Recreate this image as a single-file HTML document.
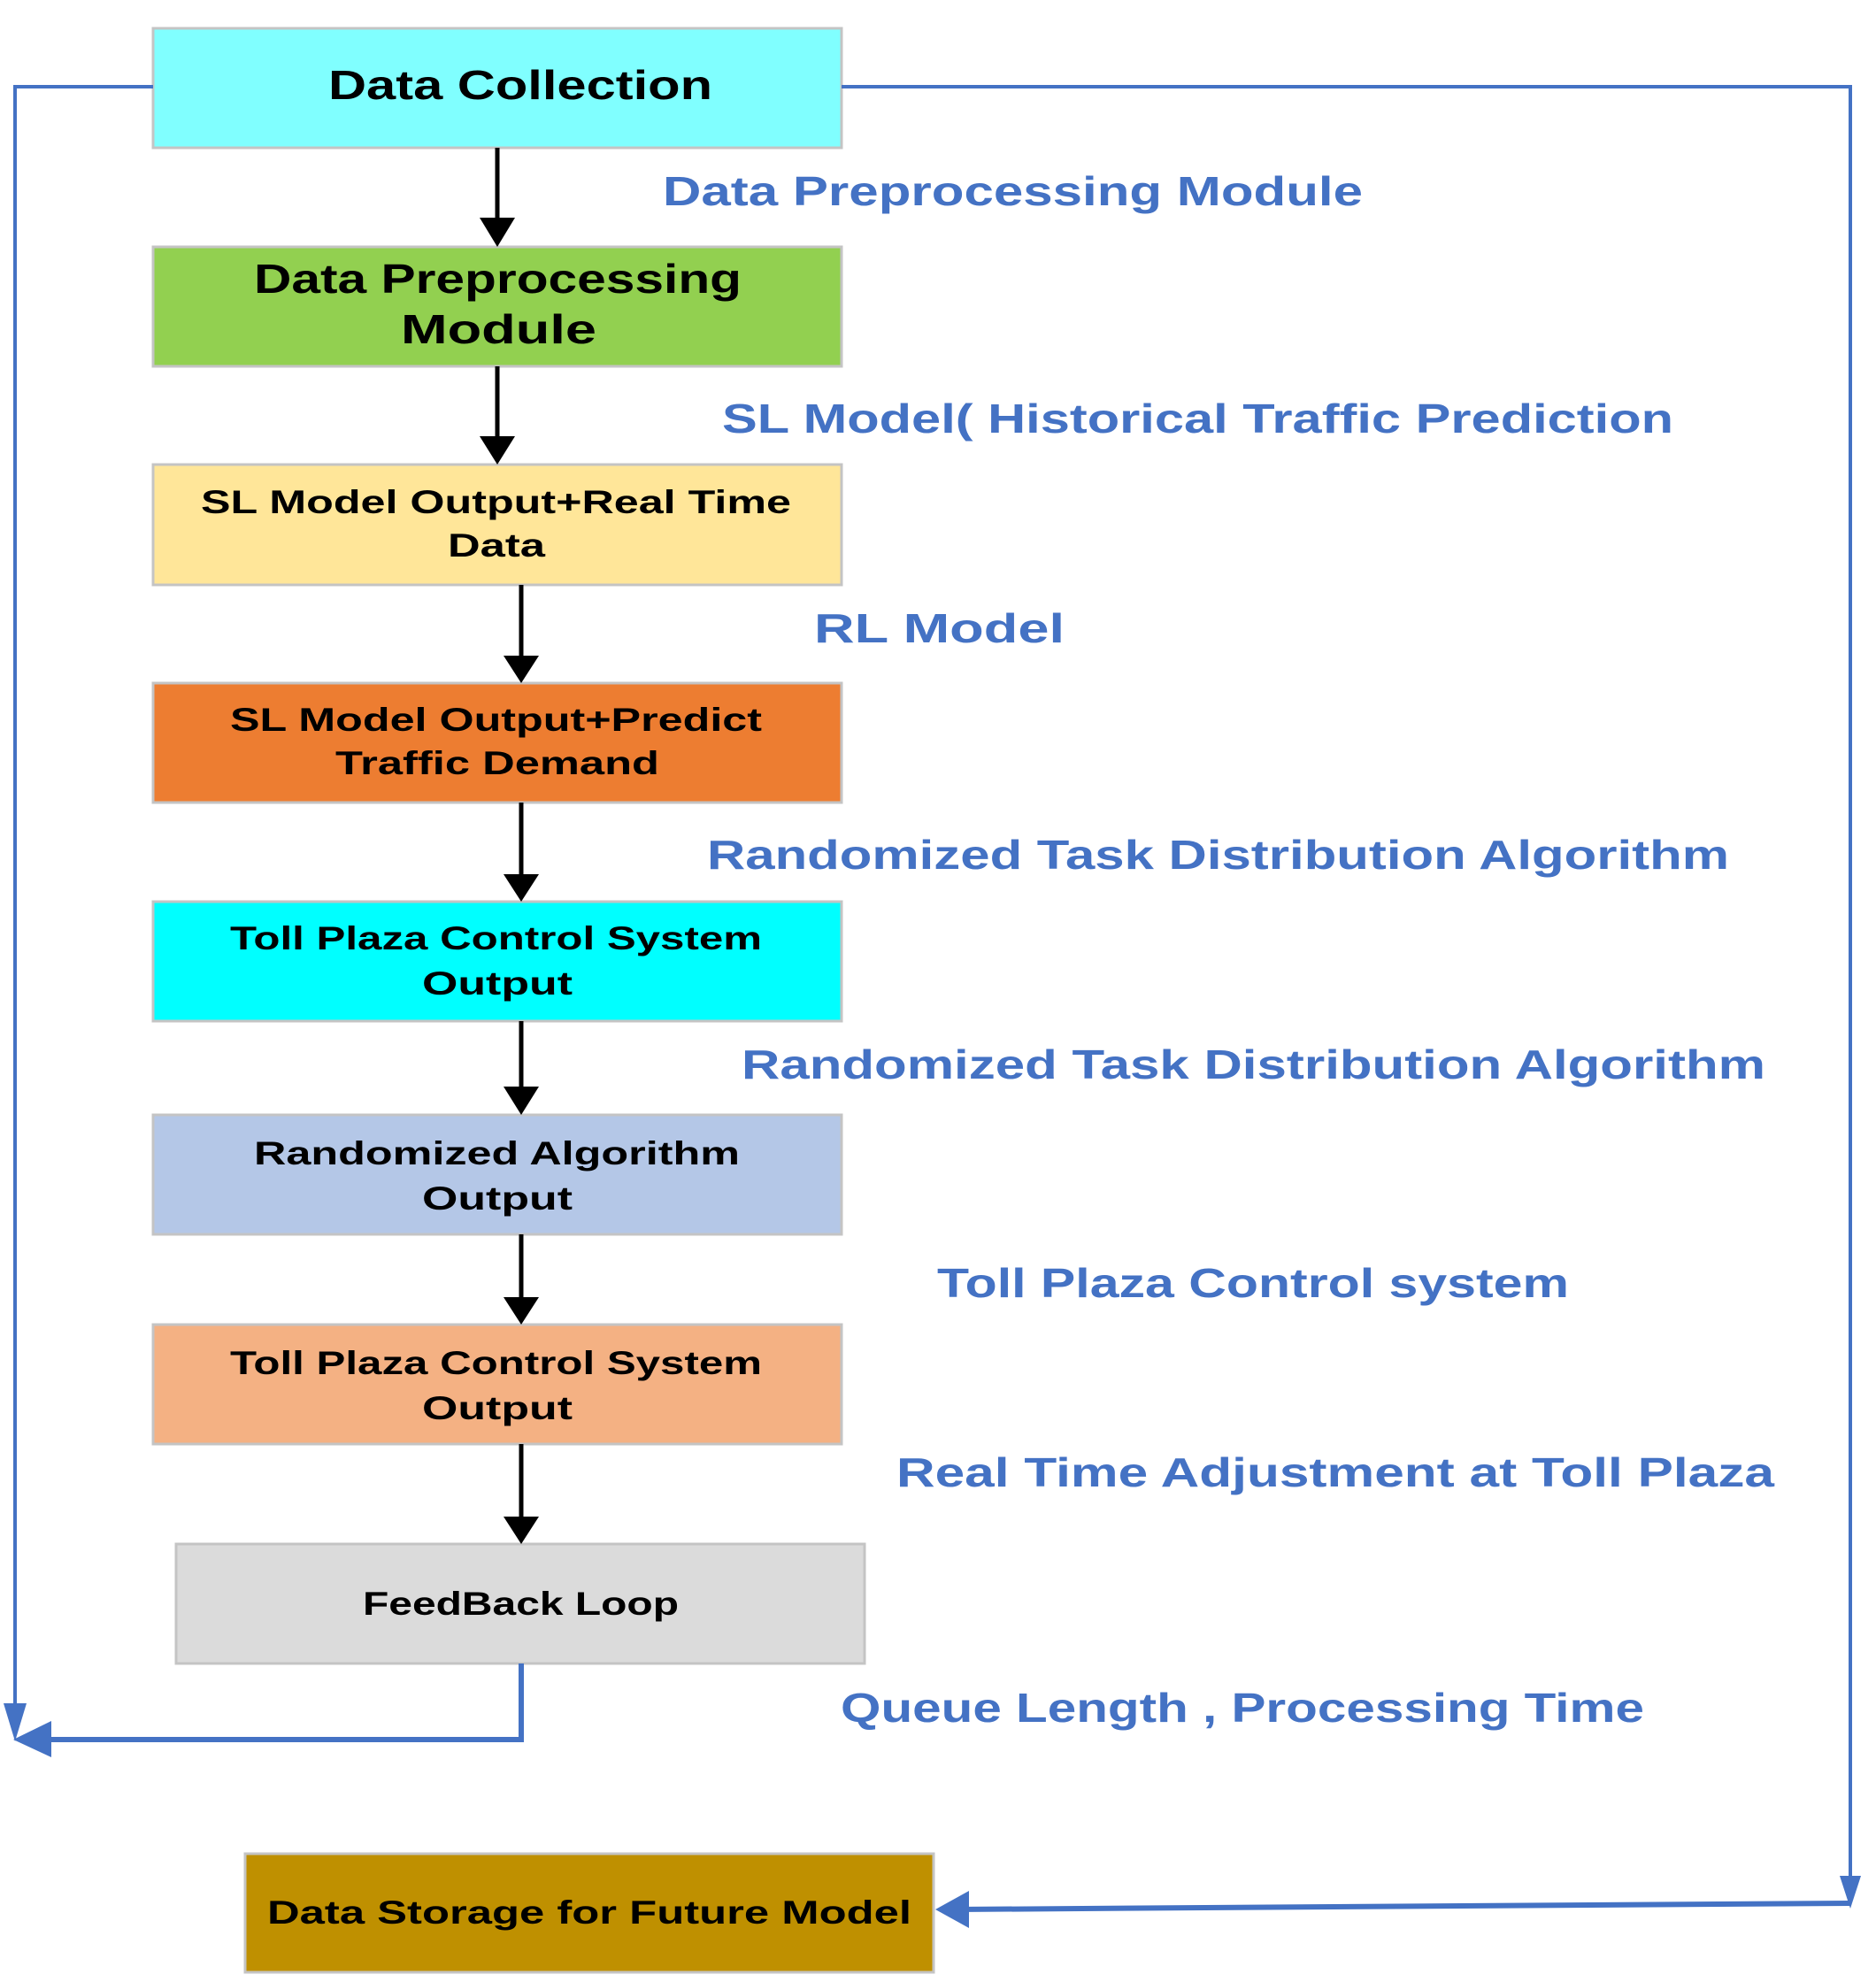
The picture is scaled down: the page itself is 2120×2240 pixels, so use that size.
<!DOCTYPE html>
<html><head><meta charset="utf-8"><style>
html,body{margin:0;padding:0;background:#fff;}
svg{display:block;}
.b{font-family:"Liberation Sans",sans-serif;font-weight:bold;fill:#000;}
.l{font-family:"Liberation Sans",sans-serif;font-weight:bold;fill:#4472c4;font-size:46px;}
</style></head><body>
<svg width="2120" height="2240" viewBox="0 0 2120 2240" xmlns="http://www.w3.org/2000/svg">
<g stroke="#c4c4c4" stroke-width="3">
<rect x="173" y="32" width="778" height="135" fill="#80ffff"/>
<rect x="173" y="279" width="778" height="135" fill="#92d050"/>
<rect x="173" y="525" width="778" height="136" fill="#ffe699"/>
<rect x="173" y="772" width="778" height="135" fill="#ed7d31"/>
<rect x="173" y="1019" width="778" height="135" fill="#00ffff"/>
<rect x="173" y="1260" width="778" height="135" fill="#b4c7e7"/>
<rect x="173" y="1497" width="778" height="135" fill="#f4b183"/>
<rect x="199" y="1745" width="778" height="135" fill="#dbdbdb"/>
<rect x="277" y="2095" width="778" height="134" fill="#bf9000"/>
</g>
<g stroke="#000" stroke-width="5">
<line x1="562" y1="167" x2="562" y2="250"/>
<line x1="562" y1="414" x2="562" y2="497"/>
<line x1="589" y1="661" x2="589" y2="745"/>
<line x1="589" y1="907" x2="589" y2="992"/>
<line x1="589" y1="1154" x2="589" y2="1232"/>
<line x1="589" y1="1395" x2="589" y2="1470"/>
<line x1="589" y1="1632" x2="589" y2="1718"/>
</g>
<g fill="#000">
<polygon points="542,246 582,246 562,279"/>
<polygon points="542,493 582,493 562,525"/>
<polygon points="569,741 609,741 589,772"/>
<polygon points="569,988 609,988 589,1019"/>
<polygon points="569,1228 609,1228 589,1260"/>
<polygon points="569,1466 609,1466 589,1497"/>
<polygon points="569,1714 609,1714 589,1745"/>
</g>
<g stroke="#4472c4" fill="none">
<polyline points="173,98 17,98 17,1930" stroke-width="4"/>
<polyline points="589,1880 589,1966 40,1966" stroke-width="6"/>
<polyline points="951,98 2091,98 2091,2125" stroke-width="4"/>
<polyline points="2091,2151 1080,2158" stroke-width="6"/>
</g>
<g fill="#4472c4">
<polygon points="4,1925 30,1925 17,1968"/>
<polygon points="15,1966 58,1945 58,1986"/>
<polygon points="2079,2120 2103,2120 2091,2157"/>
<polygon points="1057,2158 1095,2137 1095,2179"/>
</g>
<text class="b" font-size="46" x="371" y="112" textLength="434" lengthAdjust="spacingAndGlyphs">Data Collection</text>
<text class="b" font-size="46" x="287" y="331" textLength="551" lengthAdjust="spacingAndGlyphs">Data Preprocessing</text>
<text class="b" font-size="46" x="453" y="388" textLength="221" lengthAdjust="spacingAndGlyphs">Module</text>
<text class="b" font-size="37" x="227" y="580" textLength="667" lengthAdjust="spacingAndGlyphs">SL Model Output+Real Time</text>
<text class="b" font-size="37" x="506" y="629" textLength="110" lengthAdjust="spacingAndGlyphs">Data</text>
<text class="b" font-size="37" x="260" y="826" textLength="601" lengthAdjust="spacingAndGlyphs">SL Model Output+Predict</text>
<text class="b" font-size="37" x="379" y="875" textLength="366" lengthAdjust="spacingAndGlyphs">Traffic Demand</text>
<text class="b" font-size="37" x="260" y="1073" textLength="601" lengthAdjust="spacingAndGlyphs">Toll Plaza Control System</text>
<text class="b" font-size="37" x="477" y="1124" textLength="170" lengthAdjust="spacingAndGlyphs">Output</text>
<text class="b" font-size="37" x="287" y="1316" textLength="549" lengthAdjust="spacingAndGlyphs">Randomized Algorithm</text>
<text class="b" font-size="37" x="477" y="1367" textLength="170" lengthAdjust="spacingAndGlyphs">Output</text>
<text class="b" font-size="37" x="260" y="1553" textLength="601" lengthAdjust="spacingAndGlyphs">Toll Plaza Control System</text>
<text class="b" font-size="37" x="477" y="1604" textLength="170" lengthAdjust="spacingAndGlyphs">Output</text>
<text class="b" font-size="37" x="410" y="1825" textLength="357" lengthAdjust="spacingAndGlyphs">FeedBack Loop</text>
<text class="b" font-size="37" x="302" y="2174" textLength="728" lengthAdjust="spacingAndGlyphs">Data Storage for Future Model</text>
<text class="l" x="749" y="232" textLength="791" lengthAdjust="spacingAndGlyphs">Data Preprocessing Module</text>
<text class="l" x="816" y="489" textLength="1075" lengthAdjust="spacingAndGlyphs">SL Model( Historical Traffic Prediction</text>
<text class="l" x="920" y="726" textLength="283" lengthAdjust="spacingAndGlyphs">RL  Model</text>
<text class="l" x="799" y="982" textLength="1155" lengthAdjust="spacingAndGlyphs">Randomized Task Distribution Algorithm</text>
<text class="l" x="838" y="1219" textLength="1157" lengthAdjust="spacingAndGlyphs">Randomized Task Distribution Algorithm</text>
<text class="l" x="1059" y="1466" textLength="714" lengthAdjust="spacingAndGlyphs">Toll Plaza Control system</text>
<text class="l" x="1013" y="1680" textLength="992" lengthAdjust="spacingAndGlyphs">Real Time Adjustment at Toll Plaza</text>
<text class="l" x="950" y="1946" textLength="908" lengthAdjust="spacingAndGlyphs">Queue Length , Processing Time</text>
</svg>
</body></html>
